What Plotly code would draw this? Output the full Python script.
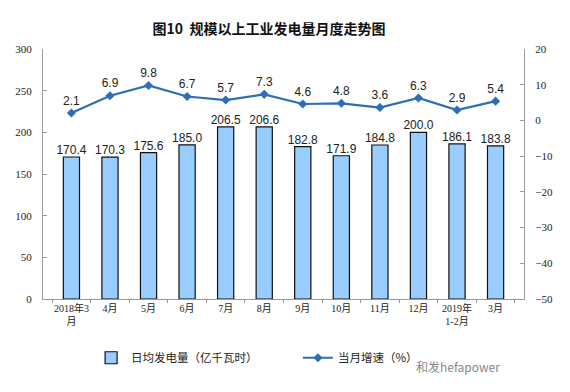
import plotly.graph_objects as go

categories = ["2018年3<br>月", "4月", "5月", "6月", "7月", "8月", "9月", "10月", "11月", "12月", "2019年<br>1-2月", "3月"]
daily_output = [170.4, 170.3, 175.6, 185.0, 206.5, 206.6, 182.8, 171.9, 184.8, 200.0, 186.1, 183.8]
monthly_growth = [2.1, 6.9, 9.8, 6.7, 5.7, 7.3, 4.6, 4.8, 3.6, 6.3, 2.9, 5.4]

label_font = dict(family="Liberation Sans, Arial", size=12, color="#222")

fig = go.Figure()
fig.add_trace(go.Bar(
    x=categories, y=daily_output, name="日均发电量（亿千瓦时）",
    marker=dict(color="#99CCFF", line=dict(color="#111111", width=1.2)),
    width=0.42, legend="legend",
))
fig.add_trace(go.Scatter(
    x=categories, y=daily_output, mode="text",
    text=[f"{v:.1f}" for v in daily_output], textposition="top center",
    textfont=label_font, showlegend=False, hoverinfo="skip", cliponaxis=False,
))
fig.add_trace(go.Scatter(
    x=categories, y=monthly_growth, name="当月增速（%）", yaxis="y2",
    mode="lines+markers+text",
    line=dict(color="#2F6DB5", width=2.2),
    marker=dict(symbol="diamond", size=7, color="#2F6DB5"),
    text=[f"{v:.1f}" for v in monthly_growth], textposition="top center",
    textfont=label_font, cliponaxis=False, legend="legend2",
))

legend_common = dict(orientation="h", yanchor="middle", y=-0.235, xanchor="left",
                     font=dict(family="Noto Sans CJK SC", size=11.5, color="#222"),
                     bgcolor="rgba(0,0,0,0)")

fig.update_layout(
    width=570, height=392,
    margin=dict(l=43, r=46, t=49, b=93, autoexpand=False),
    plot_bgcolor="white", paper_bgcolor="white",
    title=dict(text="<b>图10  规模以上工业发电量月度走势图</b>", x=0.472, xanchor="center", y=0.925, yanchor="middle",
               font=dict(family="Noto Sans CJK SC", size=14, color="#111")),
    xaxis=dict(showline=True, linecolor="#999", linewidth=1, ticks="outside", ticklen=3, tickcolor="#999",
               tickson="boundaries", tickangle=0, automargin=False,
               tickfont=dict(family="Liberation Serif, Noto Sans CJK SC", size=10, color="#222")),
    yaxis=dict(range=[0, 300], dtick=50, showgrid=False, showline=True, linecolor="#999", linewidth=1,
               ticks="inside", ticklen=4, tickcolor="#999", zeroline=False, automargin=False,
               ticklabelstandoff=8,
               tickfont=dict(family="Liberation Serif", size=11, color="#222")),
    yaxis2=dict(range=[-50, 20], dtick=10, overlaying="y", side="right", showgrid=False, zeroline=False,
                showline=True, linecolor="#999", linewidth=1, ticks="inside", ticklen=4, tickcolor="#999",
                automargin=False, ticklabelstandoff=8,
                tickfont=dict(family="Liberation Serif", size=11, color="#222")),
    legend=dict(x=0.10, **legend_common),
    legend2=dict(x=0.53, **legend_common),
    showlegend=True,
)
fig.add_annotation(text="和发hefapower", xref="paper", yref="paper", x=0.955, y=-0.27, xanchor="right",
                   yanchor="middle", showarrow=False,
                   font=dict(family="Noto Sans CJK SC", size=12, color="#888"))

fig.write_html("out.html", config={"displayModeBar": False},
               post_script="document.body.style.margin='0';")
